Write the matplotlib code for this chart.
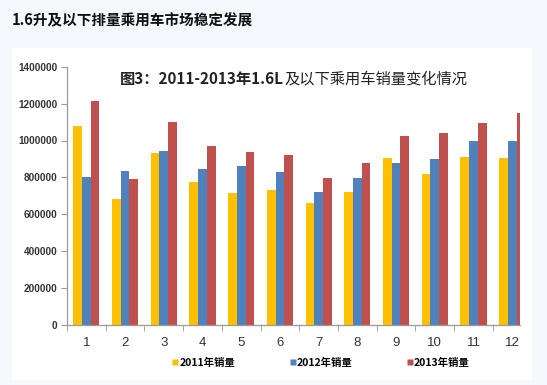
import matplotlib

matplotlib.use("Agg")
import matplotlib.pyplot as plt
import numpy as np
from matplotlib.lines import Line2D
from matplotlib.patches import Rectangle

plt.rcParams["font.family"] = ["Noto Sans CJK SC", "DejaVu Sans"]

# monthly sales of 1.6L-and-below passenger cars
months = ["1", "2", "3", "4", "5", "6", "7", "8", "9", "10", "11", "12"]
sales_2011 = [1078000, 685000, 934000, 777000, 717000, 733000,
              660000, 723000, 903000, 818000, 909000, 905000]
sales_2012 = [800000, 835000, 941000, 844000, 864000, 829000,
              721000, 795000, 878000, 898000, 996000, 999000]
sales_2013 = [1214000, 790000, 1099000, 972000, 938000, 921000,
              798000, 878000, 1026000, 1041000, 1093000, 1150000]
series_names = ["2011年销量", "2012年销量", "2013年销量"]
colors = ["#FFC000", "#4F81BD", "#C0504D"]

fig = plt.figure(figsize=(5.47, 3.85), dpi=100)
fig.patch.set_facecolor("#f5f9fe")

# white card behind the chart
fig.patches.append(Rectangle((12 / 547, 5 / 385), 520 / 547, 332 / 385,
                             transform=fig.transFigure, facecolor="white",
                             edgecolor="none", zorder=-5))

fig.text(12 / 547, 1 - 20 / 385, "1.6升及以下排量乘用车市场稳定发展",
         ha="left", va="center", fontsize=10.5, fontweight="bold",
         color="#111111")

ax = fig.add_axes([67 / 547, 60 / 385, 453 / 547, 258.3 / 385])
ax.set_facecolor("none")

x = np.arange(1, len(months) + 1)
bw = 0.225
for k, vals in enumerate([sales_2011, sales_2012, sales_2013]):
    ax.bar(x + (k - 1) * bw, vals, width=bw, color=colors[k],
           edgecolor="none", zorder=2)

ax.set_xlim(0.5, 12.2)
ax.set_ylim(0, 1400000)
ax.set_yticks(np.arange(0, 1400001, 200000))
ax.set_yticklabels([str(v) for v in range(0, 1400001, 200000)],
                   fontsize=7.2, fontweight="bold", color="#333333",
                   family=["Liberation Sans", "DejaVu Sans"])
ax.set_xticks(x)
ax.set_xticklabels(months, fontsize=9.5, color="#333333",
                   family=["Liberation Sans", "DejaVu Sans"])
ax.set_xticks(np.arange(0.5, 12.5, 1), minor=True)
ax.tick_params(axis="x", which="major", length=0, pad=9)
ax.tick_params(axis="x", which="minor", length=4, color="#999999")
ax.tick_params(axis="y", length=4, color="#999999", pad=3)

for side in ["top", "right"]:
    ax.spines[side].set_visible(False)
for side in ["left", "bottom"]:
    ax.spines[side].set_color("#999999")
    ax.spines[side].set_linewidth(0.9)

# chart title: first part bold, rest regular
t1 = ax.text(120 / 547, 1 - 79 / 385, "图3：2011-2013年1.6L",
             transform=fig.transFigure, ha="left", va="center",
             fontsize=11, fontweight="bold", color="#222222")
ax.annotate("及以下乘用车销量变化情况", xy=(1, 0.5), xycoords=t1,
            ha="left", va="center", fontsize=11, color="#222222",
            annotation_clip=False)

handles = [Line2D([], [], marker="s", linestyle="none", markersize=5,
                  markerfacecolor=c, markeredgecolor="none") for c in colors]
fig.legend(handles, series_names, loc="center", ncol=3,
           bbox_to_anchor=(321 / 547, 22 / 385), frameon=False,
           prop={"size": 7.5, "weight": "bold"}, handlelength=0.6,
           handletextpad=0.1, columnspacing=5.2)

fig.savefig("out.png", dpi=100, facecolor=fig.get_facecolor())
